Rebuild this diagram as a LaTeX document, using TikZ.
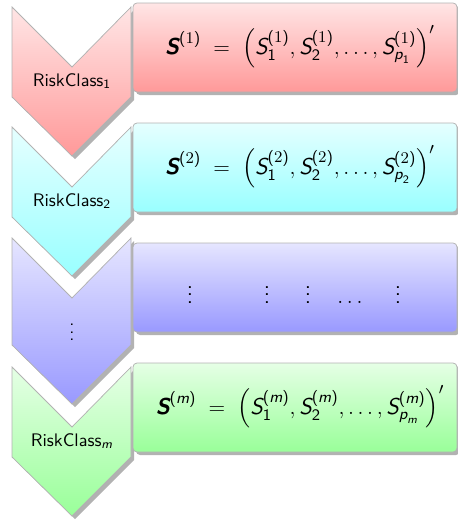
\documentclass[tikz,border=0pt]{standalone}
\usepackage{amsmath}
\renewcommand{\familydefault}{\sfdefault}
\newcommand{\mS}{\text{\sffamily\itshape S}}
\newcommand{\mbS}{\text{\sffamily\bfseries\itshape S}}
\newcommand{\myp}{\text{\sffamily\itshape p}}
\newcommand{\mym}{\text{\sffamily\itshape m}}
\newcommand{\svec}[2]{$\mbS^{\text{(}#1\text{)}} \;=\; \left(\mS_{\text{1}}^{\text{(}#1\text{)}}, \mS_{\text{2}}^{\text{(}#1\text{)}}, \ldots, \mS_{\myp_{#2}}^{\text{(}#1\text{)}}\right)'$}
\tikzset{
  shadowfill/.style={fill=black!30},
  chevbox/.style={draw=black!30, line width=0.4pt},
  descbox/.style={draw=black!30, line width=0.4pt, rounded corners=2.2pt},
  lbl/.style={font=\normalsize, text=black, inner sep=0pt},
  frm/.style={font=\fontsize{12.6}{15}\selectfont, text=black, inner sep=0pt},
}
\begin{document}
\begin{tikzpicture}[x=0.55pt, y=-0.55pt]
\useasboundingbox (0,0) rectangle (458,522);
% chevrons
\foreach \T/\L/\c/\n in {7/90/red/1, 127/90/cyan/2, 238/107/blue/3, 367/90/green/4} {
  \fill[shadowfill, shift={(3,3)}] (12,\T) -- (72,\T+60) -- (131,\T) -- (131,\T+\L) -- (72,\T+\L+59) -- (12,\T+\L) -- cycle;
  \path[chevbox, top color=\c!10, bottom color=\c!40] (12,\T) -- (72,\T+60) -- (131,\T) -- (131,\T+\L) -- (72,\T+\L+59) -- (12,\T+\L) -- cycle;
}
% boxes
\foreach \B/\c/\n in {3/red/1, 123/cyan/2, 243/blue/3, 363/green/4} {
  \fill[shadowfill, rounded corners=2.2pt] (136,\B+3) rectangle (460,\B+92);
  \path[descbox, top color=\c!10, bottom color=\c!40] (133,\B) rectangle (457,\B+89);
}
% chevron labels
\node[lbl] (c1) at (72,81) {RiskClass$_{\text{1}}$};
\node[lbl] (c2) at (72,201) {RiskClass$_{\text{2}}$};
\node[lbl] (c3) at (72,327) {$\vdots$};
\node[lbl] (c4) at (72,441) {RiskClass$_{\mym}$};
% box texts
\node[frm] (f1) at (300,47) {\svec{1}{\text{1}}};
\node[frm] (f2) at (300,167) {\svec{2}{\text{2}}};
\node[frm, anchor=base] (d1) at (190,303) {$\vdots$};
\node[frm, anchor=base] (d2) at (267,303) {$\vdots$};
\node[frm, anchor=base] (d3) at (308,303) {$\vdots$};
\node[frm, anchor=base] (d4) at (350,303) {$\ldots$};
\node[frm, anchor=base] (d5) at (398,303) {$\vdots$};
\node[frm] (f4) at (300,407) {\svec{\mym}{\mym}};
\end{tikzpicture}
\end{document}
